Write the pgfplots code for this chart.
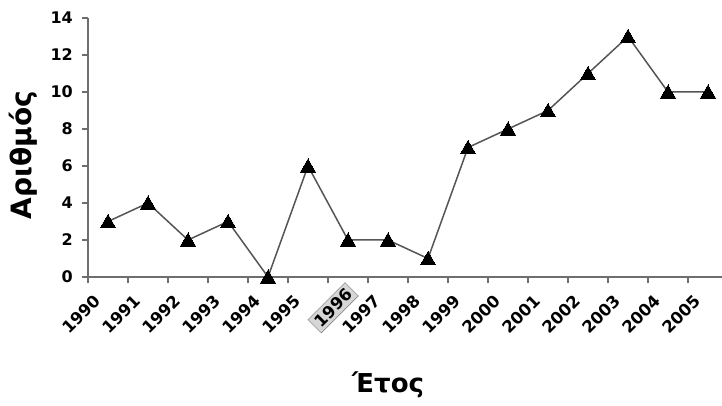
\documentclass[border=0pt]{standalone}
\usepackage{fontspec}
\setmainfont{DejaVu Sans}
\usepackage{pgfplots}
\pgfplotsset{compat=1.18}
\definecolor{axisgray}{HTML}{6E6E6E}
\definecolor{linegray}{HTML}{555555}
\definecolor{boxfill}{HTML}{D6D6D6}
\newcommand\xl{\bfseries\fontsize{16.5}{16.5}\selectfont}
\newcommand\yl{\bfseries\fontsize{16}{16}\selectfont}
\begin{document}
\begin{tikzpicture}
\begin{axis}[
    name=ax,
    scale only axis,
    width=640pt, height=259pt,
    xmin=-0.5, xmax=15.5,
    ymin=0, ymax=14,
    axis x line=bottom, axis y line=left,
    axis line style={-, color=axisgray, line width=1.3pt},
    tick align=outside,
    major tick length=0pt, minor tick length=6pt,
    every tick/.style={color=axisgray, line width=1.3pt},
    % labels sit left of the category centre, as in the original
    xtick={-0.375,0.625,1.625,2.625,3.625,4.625,6.625,7.625,8.625,9.625,10.625,11.625,12.625,13.625,14.625},
    xticklabels={\xl 1990,\xl 1991,\xl 1992,\xl 1993,\xl 1994,\xl 1995,\xl 1997,\xl 1998,
      \xl 1999,\xl 2000,\xl 2001,\xl 2002,\xl 2003,\xl 2004,\xl 2005},
    minor xtick={-0.5,0.5,...,14.5},
    ytick={0,2,...,14},
    yticklabels={\yl 0,\yl 2,\yl 4,\yl 6,\yl 8,\yl 10,\yl 12,\yl 14},
    minor ytick={0,2,...,14},
    extra x ticks={5.925},
    extra x tick labels={\fcolorbox{axisgray}{boxfill}{\xl 1996}},
    extra x tick style={xticklabel shift=5pt},
    yticklabel style={inner sep=0pt},
    yticklabel shift=15pt,
    xticklabel style={inner sep=0pt, rotate=45, anchor=north east},
    xticklabel shift=16pt,
    xlabel={Έτος},
    ylabel={Αριθμός},
    xlabel style={font=\bfseries\fontsize{26}{26}\selectfont,
      at={(axis description cs:0.469,-0.417)}, anchor=center},
    ylabel style={font=\bfseries\fontsize{28}{28}\selectfont,
      at={(axis description cs:-0.1016,0.471)}, anchor=center, rotate=0},
    clip=false,
  ]
  \addplot[color=linegray, line width=1.5pt, mark=triangle*, mark size=9pt,
    mark options={fill=black, draw=black, line width=0pt, yshift=-2pt}]
    coordinates {
      (0,3) (1,4) (2,2) (3,3) (4,0) (5,6) (6,2) (7,2)
      (8,1) (9,7) (10,8) (11,9) (12,11) (13,13) (14,10) (15,10)
    };
\end{axis}
\pgfresetboundingbox
\path ([xshift=-88pt, yshift=-129pt]ax.south west) rectangle ([xshift=-6pt, yshift=18pt]ax.north east);
\end{tikzpicture}
\end{document}
